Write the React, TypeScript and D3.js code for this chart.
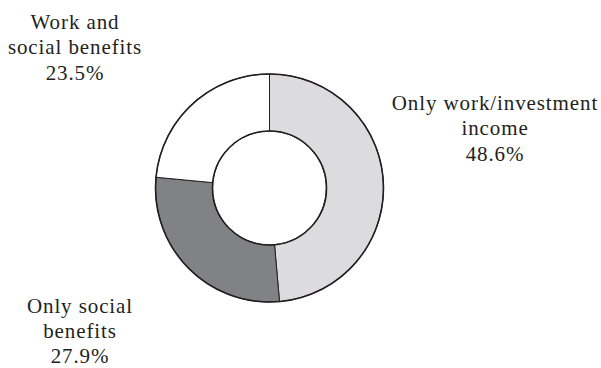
import React from "react";
import * as d3 from "d3";

const categories = ["Only work/investment income", "Only social benefits", "Work and social benefits"];
const values = [48.6, 27.9, 23.5];
const colors = ["#dcdcde", "#808285", "#ffffff"];
const labelLines = [
  ["Only work/investment", "income", "48.6%"],
  ["Only social", "benefits", "27.9%"],
  ["Work and", "social benefits", "23.5%"],
];
const labelPos = [
  { x: 495, y: 110 },
  { x: 80, y: 312.5 },
  { x: 75, y: 29 },
];

export default function App() {
  const W = 601, H = 368;
  const cx = 269.5, cy = 188, R = 114, r = 57;
  const pie = d3.pie<number>().sort(null).value((d) => d)(values);
  const arc = d3.arc<d3.PieArcDatum<number>>().innerRadius(r).outerRadius(R);
  return (
    <svg width={W} height={H} style={{ position: "absolute", left: 0, top: 0, background: "#fff" }}>
      <g transform={`translate(${cx},${cy})`}>
        {pie.map((p, i) => (
          <path key={categories[i]} d={arc(p) || ""} fill={colors[i]} stroke="#231f20" strokeWidth={1} />
        ))}
        <circle r={R} fill="none" stroke="#231f20" strokeWidth={1.6} />
        <circle r={r} fill="none" stroke="#231f20" strokeWidth={1.6} />
      </g>
      {labelLines.map((lines, i) => (
        <text key={i} style={{ fontFamily: "Liberation Serif", fontSize: "21px" }} fill="#231f20" textAnchor="middle" letterSpacing={0.9}>
          {lines.map((l, j) => (
            <tspan key={j} x={labelPos[i].x} y={labelPos[i].y + j * 25.3}>
              {l}
            </tspan>
          ))}
        </text>
      ))}
    </svg>
  );
}
